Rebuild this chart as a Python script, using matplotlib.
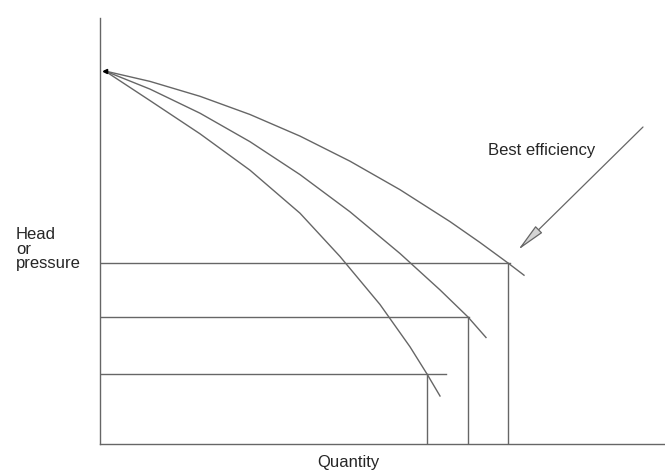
import matplotlib
matplotlib.use('Agg')
import matplotlib.pyplot as plt

plt.rcParams['font.family'] = ['Liberation Sans', 'DejaVu Sans']

# pump curves (quantity, head), arbitrary units
q_outer = [5, 50, 100, 150, 200, 250, 300, 350, 380, 408, 424]
h_outer = [373, 362.6, 347.7, 329.5, 307.9, 282.8, 254.3, 222.4, 201.5, 181, 168.8]

q_middle = [5, 50, 100, 150, 200, 250, 300, 340, 368, 386]
h_middle = [373, 354.9, 330.8, 302.3, 269.4, 232.2, 190.5, 154.1, 127, 106.5]

q_inner = [5, 50, 100, 150, 200, 240, 280, 310, 327, 340]
h_inner = [373, 343.4, 310.2, 273.8, 230.8, 187.5, 139.5, 97.2, 70, 48]

# operating points: (quantity, head, end of the horizontal guide)
op_q = [408, 368, 327]
op_h = [181, 127, 70]
op_hend = [410, 369, 346]

line_col = '#666666'
text_col = '#262626'

fig = plt.figure(figsize=(6.65, 4.71), dpi=100)
ax = fig.add_axes([100 / 665, 27 / 471, 565 / 665, 426 / 471])
ax.set_xlim(0, 565)
ax.set_ylim(0, 426)

for q, h in [(q_outer, h_outer), (q_middle, h_middle), (q_inner, h_inner)]:
    ax.plot(q, h, color=line_col, linewidth=1.0, solid_joinstyle='round')

for q, h, e in zip(op_q, op_h, op_hend):
    ax.plot([0, e], [h, h], color=line_col, linewidth=1.0)
    ax.plot([q, q], [0, h], color=line_col, linewidth=1.0)

ax.plot([5], [373], marker='<', color='black', markersize=3)

for side in ['top', 'right']:
    ax.spines[side].set_visible(False)
for side in ['left', 'bottom']:
    ax.spines[side].set_color(line_col)
    ax.spines[side].set_linewidth(1.0)
ax.set_xticks([])
ax.set_yticks([])

ax.annotate('', xy=(418, 194), xytext=(543, 317),
            arrowprops=dict(arrowstyle='-|>,head_length=1.8,head_width=0.3',
                            edgecolor=line_col, facecolor='#d4d4d4', linewidth=0.9,
                            shrinkA=0, shrinkB=0))

ax.text(442, 293, 'Best efficiency', fontsize=12, color=text_col,
        ha='center', va='center')
ax.text(-84, 195, 'Head\nor\npressure', fontsize=12, color=text_col,
        ha='left', va='center', linespacing=0.95)
ax.text(248, -18, 'Quantity', fontsize=12, color=text_col,
        ha='center', va='center')

fig.savefig('out.png', dpi=100)
